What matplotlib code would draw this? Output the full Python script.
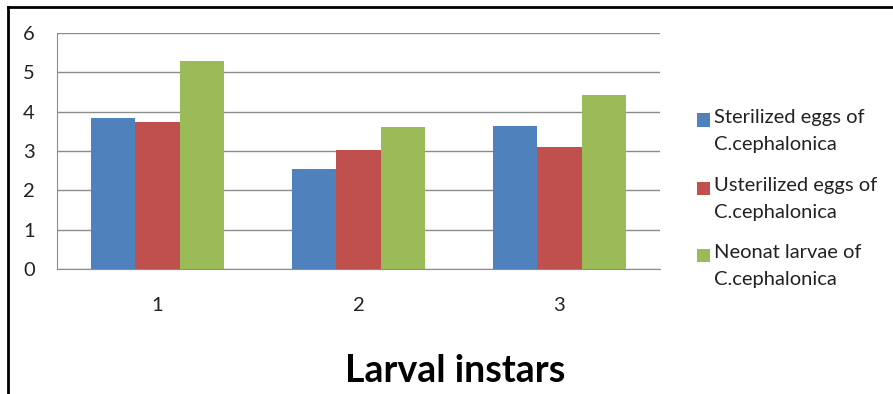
import matplotlib
matplotlib.use("Agg")
import matplotlib.pyplot as plt
import numpy as np
from matplotlib.lines import Line2D
from matplotlib.patches import Rectangle

categories = ["1", "2", "3"]
series_names = ["Sterilized eggs of\nC.cephalonica",
                "Usterilized eggs of\nC.cephalonica",
                "Neonat larvae of\nC.cephalonica"]
sterilized = [3.83, 2.53, 3.63]
usterilized = [3.75, 3.02, 3.11]
neonat = [5.30, 3.60, 4.43]
colors = ["#4F81BD", "#C0504D", "#9BBB59"]
yticks = [0, 1, 2, 3, 4, 5, 6]

plt.rcParams['font.family'] = ['Lato', 'DejaVu Sans']

W, H = 893, 394
fig = plt.figure(figsize=(W / 100, H / 100), dpi=100)
ax = fig.add_axes([57 / W, 1 - 269 / H, (660 - 57) / W, (269 - 33) / H])

x = np.arange(len(categories))
bw = 0.2215
for i, (vals, c) in enumerate(zip([sterilized, usterilized, neonat], colors)):
    ax.bar(x + (i - 1) * bw, vals, bw, color=c, zorder=3)

ax.set_xlim(-0.5, 2.5)
ax.set_ylim(0, 6)
ax.set_yticks(yticks)
ax.set_yticklabels([str(t) for t in yticks], fontsize=14.5, color="#222222")
ax.set_xticks(x)
ax.set_xticklabels(categories, fontsize=14.5, color="#222222")
ax.tick_params(axis='both', length=0)
ax.tick_params(axis='y', pad=16)
ax.tick_params(axis='x', pad=20)
ax.yaxis.grid(True, color="#8C8C8C", linewidth=1.0, zorder=0)
for s in ["top", "right"]:
    ax.spines[s].set_visible(False)
ax.spines["left"].set_color("#8C8C8C")
ax.spines["bottom"].set_color("#8C8C8C")

# legend (square aligned with first line of each two-line label)
entry_y = [120, 188, 255]
for name, c, yy in zip(series_names, colors, entry_y):
    fig.add_artist(Rectangle((697 / W, 1 - (yy + 6.5) / H), 13 / W, 13 / H,
                             transform=fig.transFigure, facecolor=c, edgecolor="none"))
    fig.text(714 / W, 1 - (yy - 11) / H, name, fontsize=14.5, ha="left", va="top",
             linespacing=1.68, color="#222222")

fig.text(455 / W, 1 - 371 / H, "Larval instars", fontsize=27, fontweight="bold",
         ha="center", va="center", color="black")

# outer frame (left and top)
fig.add_artist(Line2D([8 / W, 8 / W], [0, 1 - 7 / H], transform=fig.transFigure,
                      color="black", linewidth=2))
fig.add_artist(Line2D([8 / W, 1], [1 - 7 / H, 1 - 7 / H], transform=fig.transFigure,
                      color="black", linewidth=2))

fig.savefig("out.png", dpi=100)
